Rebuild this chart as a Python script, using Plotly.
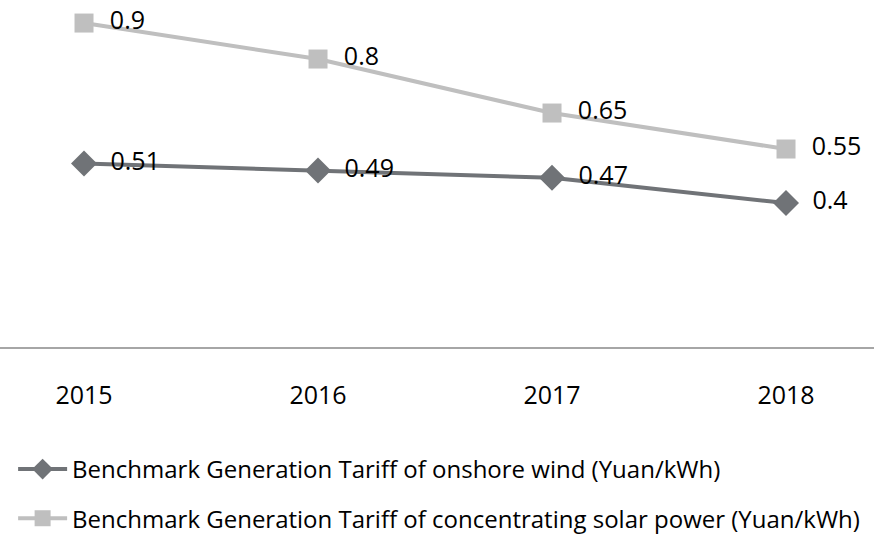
import plotly.graph_objects as go

years = ["2015", "2016", "2017", "2018"]
wind = [0.51, 0.49, 0.47, 0.4]
solar = [0.9, 0.8, 0.65, 0.55]
wind_name = "Benchmark Generation Tariff of onshore wind (Yuan/kWh)"
solar_name = "Benchmark Generation Tariff of concentrating solar power (Yuan/kWh)"

font_family = "Open Sans, Noto Sans, sans-serif"
pad = "\u00a0\u00a0"

fig = go.Figure()
fig.add_trace(go.Scatter(
    x=years, y=wind, name=wind_name, mode="lines+markers+text",
    text=[pad + str(v) for v in wind], textposition="middle right",
    textfont=dict(size=25, color="#000000"),
    line=dict(color="#707377", width=4),
    marker=dict(symbol="diamond", size=20, color="#707377"),
    legendgroup="a",
))
fig.add_trace(go.Scatter(
    x=years, y=solar, name=solar_name, mode="lines+markers+text",
    text=[pad + str(v) for v in solar], textposition="middle right",
    textfont=dict(size=25, color="#000000"),
    line=dict(color="#bfbfbf", width=4),
    marker=dict(symbol="square", size=19, color="#bfbfbf"),
    legendgroup="b",
))

fig.update_layout(
    width=874, height=534,
    margin=dict(l=0, r=0, t=0, b=187, autoexpand=False),
    paper_bgcolor="white", plot_bgcolor="white",
    font=dict(family=font_family, size=24, color="#000000"),
    showlegend=True,
    legend=dict(
        orientation="v", x=0.015, xanchor="left", y=-0.288, yanchor="top",
        font=dict(size=24), traceorder="grouped", tracegroupgap=15,
        itemwidth=49,
    ),
    xaxis=dict(
        type="category", range=[-0.359, 3.376],
        showline=True, linecolor="#a6a6a6", linewidth=2,
        showgrid=False, zeroline=False, ticks="",
        ticklabelstandoff=25, tickfont=dict(size=25),
    ),
    yaxis=dict(
        range=[0, 0.964], visible=False, showgrid=False, zeroline=False,
    ),
)

fig.write_html(
    "out.html",
    config={"displayModeBar": False},
    post_script="document.body.style.margin='0';document.body.style.overflow='hidden';",
)
